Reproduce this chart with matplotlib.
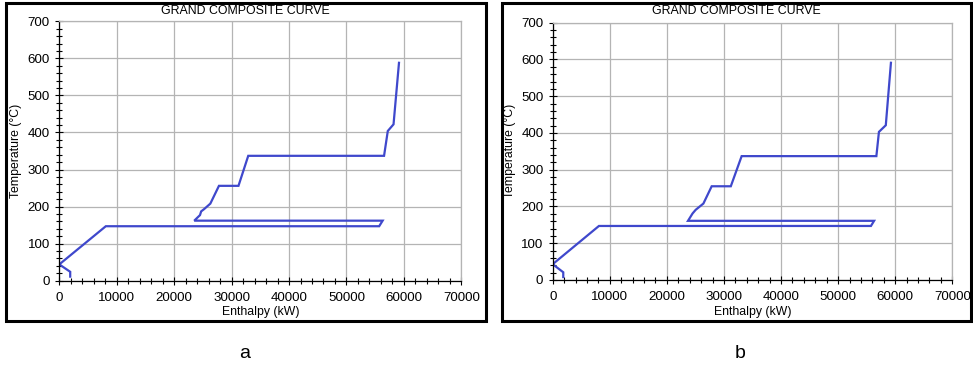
import matplotlib
matplotlib.use("Agg")
import matplotlib.pyplot as plt
from matplotlib.patches import Rectangle
from matplotlib.ticker import MultipleLocator

plt.rcParams['font.family'] = ['Liberation Sans', 'DejaVu Sans']

# grand composite curve, panel a
a_h = [1900, 1900, 0, 8100, 55700, 56300, 23500, 24500, 24700, 25200, 26300,
       27800, 31200, 32900, 56550, 57200, 58200, 59150]
a_t = [11, 24, 44, 147, 147, 162, 162, 177, 187, 193, 208,
       256, 256, 337, 337, 404, 422, 588]

# panel b
b_h = [1850, 1850, 0, 8100, 55750, 56300, 23700, 24500, 25050, 26400,
       27850, 31200, 33100, 56700, 57150, 58350, 59250]
b_t = [8, 21, 43, 147, 147, 161, 161, 181, 191, 208,
       255, 255, 337, 337, 403, 421, 591]

title = "GRAND COMPOSITE CURVE"
xlab = "Enthalpy (kW)"
ylab = "Temperature (°C)"
panel_names = ["a", "b"]

W, H = 973, 369
fig = plt.figure(figsize=(W / 100, H / 100), dpi=100)

# pixel boxes (left, top, right, bottom) for axes and frame
ax_px = [(59.3, 21.3, 461.3, 280.7), (552.7, 22.7, 952.3, 280.0)]
frame_px = [(5.7, 3.3, 486.0, 321.0), (501.7, 2.7, 970.8, 321.0)]
label_x = [245, 740]

for i, (hh, tt) in enumerate([(a_h, a_t), (b_h, b_t)]):
    l, t, r, b = ax_px[i]
    ax = fig.add_axes([l / W, 1 - b / H, (r - l) / W, (b - t) / H])
    ax.plot(hh, tt, color='#3f48cc', lw=1.6, solid_joinstyle='miter')
    ax.set_xlim(0, 70000)
    ax.set_ylim(0, 700)
    ax.xaxis.set_major_locator(MultipleLocator(10000))
    ax.xaxis.set_minor_locator(MultipleLocator(2000))
    ax.yaxis.set_major_locator(MultipleLocator(100))
    ax.yaxis.set_minor_locator(MultipleLocator(20))
    ax.grid(True, which='major', color='#b4b4b4', lw=0.9)
    ax.set_axisbelow(True)
    ax.tick_params(which='both', direction='inout', length=5.5, width=0.8,
                   labelsize=9.6, pad=4, colors='black')
    ax.tick_params(axis='x', pad=5.5)
    ax.tick_params(which='minor', length=4.5)
    for s in ['top', 'right']:
        ax.spines[s].set_color('#b4b4b4')
        ax.spines[s].set_linewidth(0.9)
    for s in ['left', 'bottom']:
        ax.spines[s].set_linewidth(0.9)
    ax.set_xlabel(xlab, fontsize=8.8, labelpad=1.5)
    ax.set_ylabel(ylab, fontsize=8.8, labelpad=4)

    fl, ft, fr, fb = frame_px[i]
    fig.patches.append(Rectangle((fl / W, 1 - fb / H), (fr - fl) / W, (fb - ft) / H,
                                 transform=fig.transFigure, fill=False,
                                 edgecolor='black', lw=2.2))
    fig.text((fl + fr) / 2 / W, 1 - 10.5 / H, title, ha='center', va='center',
             fontsize=8.9)
    fig.text(label_x[i] / W, 1 - 353 / H, panel_names[i], ha='center',
             va='center', fontsize=14)

fig.savefig("out.png", dpi=100)
